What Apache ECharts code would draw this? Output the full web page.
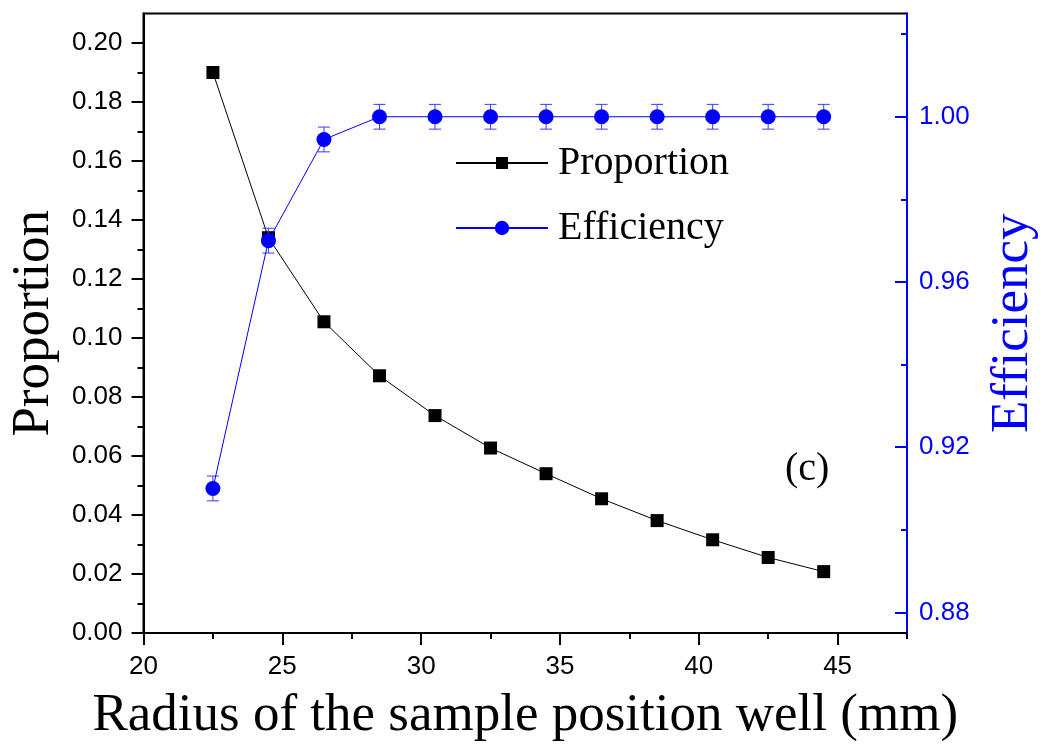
<!DOCTYPE html>
<html>
<head>
<meta charset="utf-8">
<script src="https://cdn.jsdelivr.net/npm/echarts@6/dist/echarts.min.js"></script>
<style>html,body{margin:0;padding:0;background:#fff}#c{width:1048px;height:748px}</style>
</head>
<body>
<div id="c"></div>
<script>
const radius = [22.5, 24.5, 26.5, 28.5, 30.5, 32.5, 34.5, 36.5, 38.5, 40.5, 42.5, 44.5];
const proportion = [0.190, 0.134, 0.1055, 0.0872, 0.0737, 0.0627, 0.0540, 0.0455, 0.0381, 0.0316, 0.0256, 0.0208];
const efficiency = [0.910, 0.970, 0.9945, 1.000, 1.000, 1.000, 1.000, 1.000, 1.000, 1.000, 1.000, 1.000];
const efficiencyErr = [0.003, 0.003, 0.003, 0.003, 0.003, 0.003, 0.003, 0.003, 0.003, 0.003, 0.003, 0.003];
const xTicks = [20, 25, 30, 35, 40, 45];
const xMinorTicks = [22.5, 27.5, 32.5, 37.5, 42.5, 47.5];
const leftTicks = [0, 0.02, 0.04, 0.06, 0.08, 0.10, 0.12, 0.14, 0.16, 0.18, 0.20];
const leftMinorTicks = [0.01, 0.03, 0.05, 0.07, 0.09, 0.11, 0.13, 0.15, 0.17, 0.19];
const rightTicks = [0.88, 0.92, 0.96, 1.00];
const rightMinorTicks = [0.90, 0.94, 0.98, 1.02];

const BLUE = '#0000ff';
const SANS = 'Liberation Sans';
const SERIF = 'Liberation Serif';
const TICK_FONT = 26;

const chart = echarts.init(document.getElementById('c'), null, {renderer: 'canvas'});

const propData = radius.map((x, i) => [x, proportion[i]]);
const effData = radius.map((x, i) => [x, efficiency[i]]);
const errData = radius.map((x, i) => [x, efficiency[i] - efficiencyErr[i], efficiency[i] + efficiencyErr[i]]);

const option = {
  animation: false,
  backgroundColor: '#fff',
  grid: {left: 142, right: 133, top: 13.5, bottom: 111, containLabel: false, show: true, borderColor: '#000', borderWidth: 2, backgroundColor: 'transparent'},
  xAxis: [
    {
      type: 'value', min: 20, max: 47.5, position: 'bottom',
      name: 'Radius of the sample position well (mm)', nameLocation: 'middle', nameGap: 57,
      nameTextStyle: {fontFamily: SERIF, fontSize: 53, color: '#000'},
      axisLine: {show: true, lineStyle: {color: '#000', width: 2}},
      axisTick: {show: true, customValues: xTicks, length: 12, lineStyle: {color: '#000', width: 2}},
      axisLabel: {show: true, customValues: xTicks, margin: 21, fontFamily: SANS, fontSize: TICK_FONT, color: '#000'},
      splitLine: {show: false}
    },
    {
      type: 'value', min: 20, max: 47.5, position: 'bottom',
      axisLine: {show: false},
      axisTick: {show: true, customValues: xMinorTicks, length: 6, lineStyle: {color: '#000', width: 2}},
      axisLabel: {show: false},
      splitLine: {show: false}
    }
  ],
  yAxis: [
    {
      type: 'value', min: 0, max: 0.21, position: 'left',
      name: 'Proportion', nameLocation: 'middle', nameGap: 80,
      nameTextStyle: {fontFamily: SERIF, fontSize: 53, color: '#000'},
      axisLine: {show: true, lineStyle: {color: '#000', width: 2}},
      axisTick: {show: true, customValues: leftTicks, length: 12, lineStyle: {color: '#000', width: 2}},
      axisLabel: {show: true, customValues: leftTicks, margin: 21, fontFamily: SANS, fontSize: TICK_FONT, color: '#000', formatter: v => v.toFixed(2)},
      splitLine: {show: false}
    },
    {
      type: 'value', min: 0, max: 0.21, position: 'left',
      axisLine: {show: false},
      axisTick: {show: true, customValues: leftMinorTicks, length: 6, lineStyle: {color: '#000', width: 2}},
      axisLabel: {show: false},
      splitLine: {show: false}
    },
    {
      type: 'value', min: 0.875, max: 1.025, position: 'right',
      name: 'Efficiency', nameLocation: 'middle', nameGap: 80,
      nameTextStyle: {fontFamily: SERIF, fontSize: 53, color: BLUE},
      axisLine: {show: true, lineStyle: {color: BLUE, width: 2}},
      axisTick: {show: true, inside: true, customValues: rightTicks, length: 12, lineStyle: {color: BLUE, width: 2}},
      axisLabel: {show: true, customValues: rightTicks, margin: 12, fontFamily: SANS, fontSize: TICK_FONT, color: BLUE, formatter: v => v.toFixed(2)},
      splitLine: {show: false}
    },
    {
      type: 'value', min: 0.875, max: 1.025, position: 'right',
      axisLine: {show: false},
      axisTick: {show: true, inside: true, customValues: rightMinorTicks, length: 6, lineStyle: {color: BLUE, width: 2}},
      axisLabel: {show: false},
      splitLine: {show: false}
    }
  ],
  legend: [
    {
      data: ['Proportion'], orient: 'vertical', left: 455, top: 143, padding: 0,
      itemWidth: 92, itemHeight: 15,
      textStyle: {fontFamily: SERIF, fontSize: 40, color: '#000', lineHeight: 40, padding: [0, 0, 0, 5]}
    },
    {
      data: ['Efficiency'], orient: 'vertical', left: 455, top: 208, padding: 0,
      itemWidth: 92, itemHeight: 18,
      textStyle: {fontFamily: SERIF, fontSize: 40, color: '#000', lineHeight: 40, padding: [0, 0, 0, 5]}
    }
  ],
  graphic: [
    {type: 'text', left: 785, top: 449, style: {text: '(c)', font: '40px "Liberation Serif"', fill: '#000'}}
  ],
  series: [
    {
      name: 'Proportion', type: 'line', xAxisIndex: 0, yAxisIndex: 0,
      data: propData, symbol: 'rect', symbolSize: 13,
      lineStyle: {color: '#000', width: 1}, itemStyle: {color: '#000'}, z: 3
    },
    {
      name: 'EffErr', type: 'custom', xAxisIndex: 0, yAxisIndex: 2,
      data: errData, encode: {x: 0, y: [1, 2]}, z: 4,
      renderItem: function (params, api) {
        const x = api.value(0);
        const top = api.coord([x, api.value(2)]);
        const bot = api.coord([x, api.value(1)]);
        const hw = 6;
        const st = {stroke: '#3a3aff', lineWidth: 1};
        return {type: 'group', children: [
          {type: 'line', shape: {x1: top[0], y1: top[1], x2: bot[0], y2: bot[1]}, style: st},
          {type: 'line', shape: {x1: top[0] - hw, y1: top[1], x2: top[0] + hw, y2: top[1]}, style: st},
          {type: 'line', shape: {x1: bot[0] - hw, y1: bot[1], x2: bot[0] + hw, y2: bot[1]}, style: st}
        ]};
      }
    },
    {
      name: 'Efficiency', type: 'line', xAxisIndex: 0, yAxisIndex: 2,
      data: effData, symbol: 'circle', symbolSize: 15,
      lineStyle: {color: BLUE, width: 1}, itemStyle: {color: BLUE}, z: 5
    }
  ]
};
chart.setOption(option);
</script>
</body>
</html>
